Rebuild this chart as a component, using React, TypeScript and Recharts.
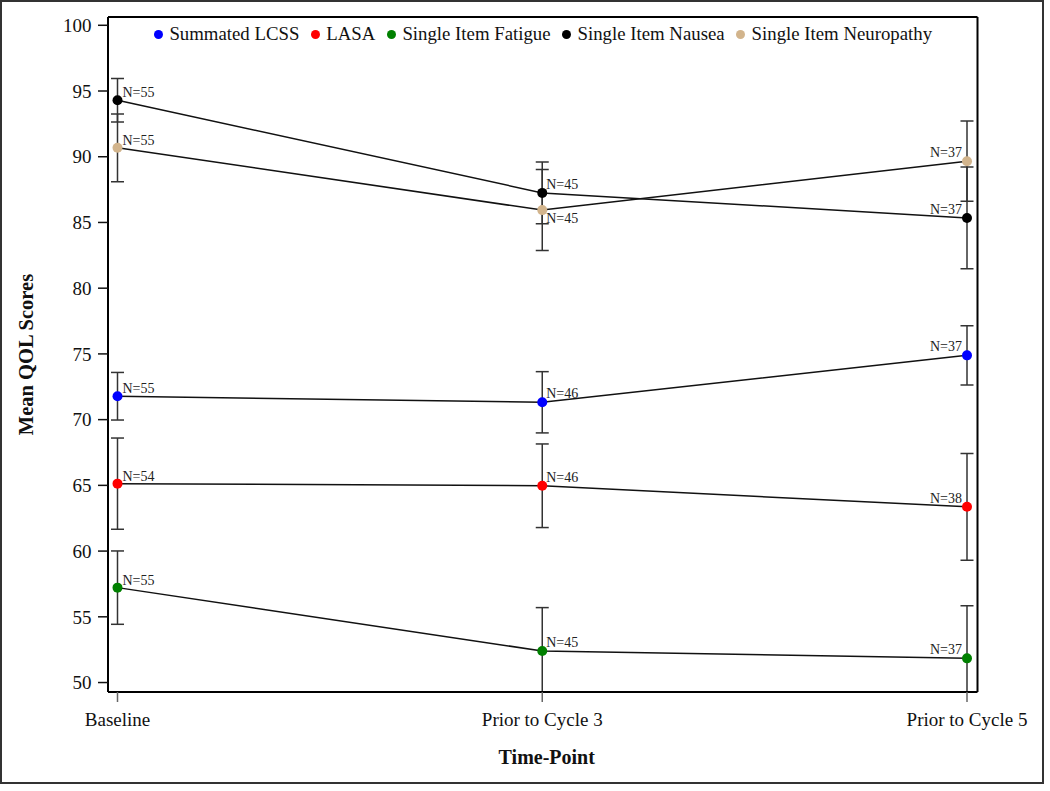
import React from 'react';
import { LineChart, Line, XAxis, YAxis, ErrorBar, LabelList, Legend } from 'recharts';

const timePoints = ['Baseline', 'Prior to Cycle 3', 'Prior to Cycle 5'];

const lcssMean = [71.78, 71.32, 74.89];
const lcssErr = [1.81, 2.33, 2.26];
const lcssN = [55, 46, 37];

const lasaMean = [65.13, 64.97, 63.37];
const lasaErr = [3.47, 3.18, 4.06];
const lasaN = [54, 46, 38];

const fatigueMean = [57.22, 52.4, 51.84];
const fatigueErr = [2.79, 3.3, 4.0];
const fatigueN = [55, 45, 37];

const nauseaMean = [94.3, 87.25, 85.34];
const nauseaErr = [1.65, 2.35, 3.87];
const nauseaN = [55, 45, 37];

const neuropathyMean = [90.68, 85.94, 89.66];
const neuropathyErr = [2.58, 3.08, 3.05];
const neuropathyN = [55, 45, 37];

const yTicks = [50, 55, 60, 65, 70, 75, 80, 85, 90, 95, 100];

const series = [
  { key: 'lcss', name: 'Summated LCSS', color: '#0000ff', mean: lcssMean, err: lcssErr, n: lcssN },
  { key: 'lasa', name: 'LASA', color: '#ff0000', mean: lasaMean, err: lasaErr, n: lasaN },
  { key: 'fatigue', name: 'Single Item Fatigue', color: '#008000', mean: fatigueMean, err: fatigueErr, n: fatigueN },
  { key: 'nausea', name: 'Single Item Nausea', color: '#000000', mean: nauseaMean, err: nauseaErr, n: nauseaN },
  { key: 'neuropathy', name: 'Single Item Neuropathy', color: '#d2b48c', mean: neuropathyMean, err: neuropathyErr, n: neuropathyN },
];

const data = timePoints.map((t, i) => {
  const row: Record<string, any> = { time: t };
  series.forEach((s) => {
    row[s.key] = s.mean[i];
    row[s.key + 'Err'] = s.err[i];
    row[s.key + 'N'] = s.n[i];
  });
  return row;
});

const FONT = "'Liberation Serif', 'Times New Roman', serif";
const Y_DOMAIN: [number, number] = [49.28, 100.63];

// label placement (layout only)
const labelBelow: Record<string, number[]> = { neuropathy: [1] };

const makeLabel = (key: string) => (props: any) => {
  const { x, y, value, index } = props;
  if (x == null || y == null) return null;
  let tx = x + 5;
  let ty = y - 3;
  let anchor: 'start' | 'end' = 'start';
  if (index === 1) {
    tx = x + 4;
    ty = y - 4;
  }
  if (index === 2) {
    tx = x - 5;
    ty = y - 4;
    anchor = 'end';
  }
  if (labelBelow[key] && labelBelow[key].includes(index)) {
    ty = y + 13;
  }
  return (
    <text x={tx} y={ty} textAnchor={anchor} fontFamily={FONT} fontSize={14} fill="#222">
      {`N=${value}`}
    </text>
  );
};

const LegendContent = () => (
  <div
    style={{
      display: 'flex',
      justifyContent: 'center',
      alignItems: 'center',
      height: 20,
      fontFamily: FONT,
      fontSize: 18.8,
      color: '#111',
      whiteSpace: 'nowrap',
    }}
  >
    {series.map((s, i) => (
      <div key={s.key} style={{ display: 'flex', alignItems: 'center', marginLeft: i === 0 ? 0 : 11.5 }}>
        <span
          style={{
            display: 'inline-block',
            width: 9,
            height: 9,
            borderRadius: '50%',
            background: s.color,
            marginRight: 6.5,
          }}
        />
        <span style={{ lineHeight: '20px' }}>{s.name}</span>
      </div>
    ))}
  </div>
);

export default function App() {
  return (
    <div style={{ position: 'absolute', left: 0, top: 0, width: 1050, height: 791, background: '#fff' }}>
      <div style={{ position: 'absolute', left: 0, top: 0 }}>
        <LineChart
          width={1050}
          height={791}
          data={data}
          margin={{ top: 16, right: 71.5, bottom: 59, left: 48 }}
        >
          <defs>
            <clipPath id="plotClip">
              <rect x={108} y={17} width={869.5} height={675} />
            </clipPath>
          </defs>
          <XAxis
            dataKey="time"
            xAxisId="main"
            height={40}
            padding={{ left: 9.5, right: 10.5 }}
            axisLine={{ stroke: '#000', strokeWidth: 2 }}
            tickLine={{ stroke: '#666', strokeWidth: 1.5 }}
            tickSize={10}
            tickMargin={11}
            tick={{ fill: '#111', fontSize: 19, fontFamily: FONT }}
            interval={0}
            label={{
              value: 'Time-Point',
              position: 'bottom',
              offset: 17.5,
              dx: 4,
              style: { fontFamily: FONT, fontSize: 20, fontWeight: 'bold', fill: '#111' },
            }}
          />
          <XAxis
            dataKey="time"
            xAxisId="top"
            orientation="top"
            height={1}
            padding={{ left: 9.5, right: 10.5 }}
            tick={false}
            tickLine={false}
            axisLine={{ stroke: '#000', strokeWidth: 2 }}
          />
          <YAxis
            yAxisId="main"
            width={60}
            domain={Y_DOMAIN}
            allowDataOverflow
            ticks={yTicks}
            interval={0}
            axisLine={{ stroke: '#000', strokeWidth: 2 }}
            tickLine={{ stroke: '#111', strokeWidth: 1.5 }}
            tickSize={10}
            tickMargin={6.5}
            tick={{ fill: '#111', fontSize: 19, fontFamily: FONT }}
            label={{
              value: 'Mean QOL Scores',
              angle: -90,
              position: 'left',
              offset: 22,
              style: { textAnchor: 'middle', fontFamily: FONT, fontSize: 20.5, fontWeight: 'bold', fill: '#111' },
            }}
          />
          <YAxis
            yAxisId="right"
            orientation="right"
            width={1}
            domain={Y_DOMAIN}
            allowDataOverflow
            ticks={yTicks}
            tick={false}
            tickLine={false}
            axisLine={{ stroke: '#000', strokeWidth: 2 }}
          />
          <Legend
            verticalAlign="middle"
            align="center"
            layout="horizontal"
            content={<LegendContent />}
            wrapperStyle={{ top: 24, left: 108, width: 870, height: 20 }}
          />
          {series.map((s) => (
            <Line
              key={s.key}
              xAxisId="main"
              yAxisId="main"
              type="linear"
              dataKey={s.key}
              name={s.name}
              stroke="#111"
              strokeWidth={1.5}
              dot={{ r: 5, fill: s.color, stroke: s.color, strokeWidth: 0 }}
              activeDot={false}
              isAnimationActive={false}
            >
              <ErrorBar
                dataKey={s.key + 'Err'}
                direction="y"
                width={6.5}
                strokeWidth={1.5}
                stroke="#333"
                clipPath="url(#plotClip)"
              />
              <LabelList dataKey={s.key + 'N'} content={makeLabel(s.key)} />
            </Line>
          ))}
        </LineChart>
      </div>
      <div
        style={{
          position: 'absolute',
          left: 0,
          top: 0,
          width: 1044,
          height: 784,
          boxSizing: 'border-box',
          border: '2px solid #333',
          pointerEvents: 'none',
        }}
      />
    </div>
  );
}
